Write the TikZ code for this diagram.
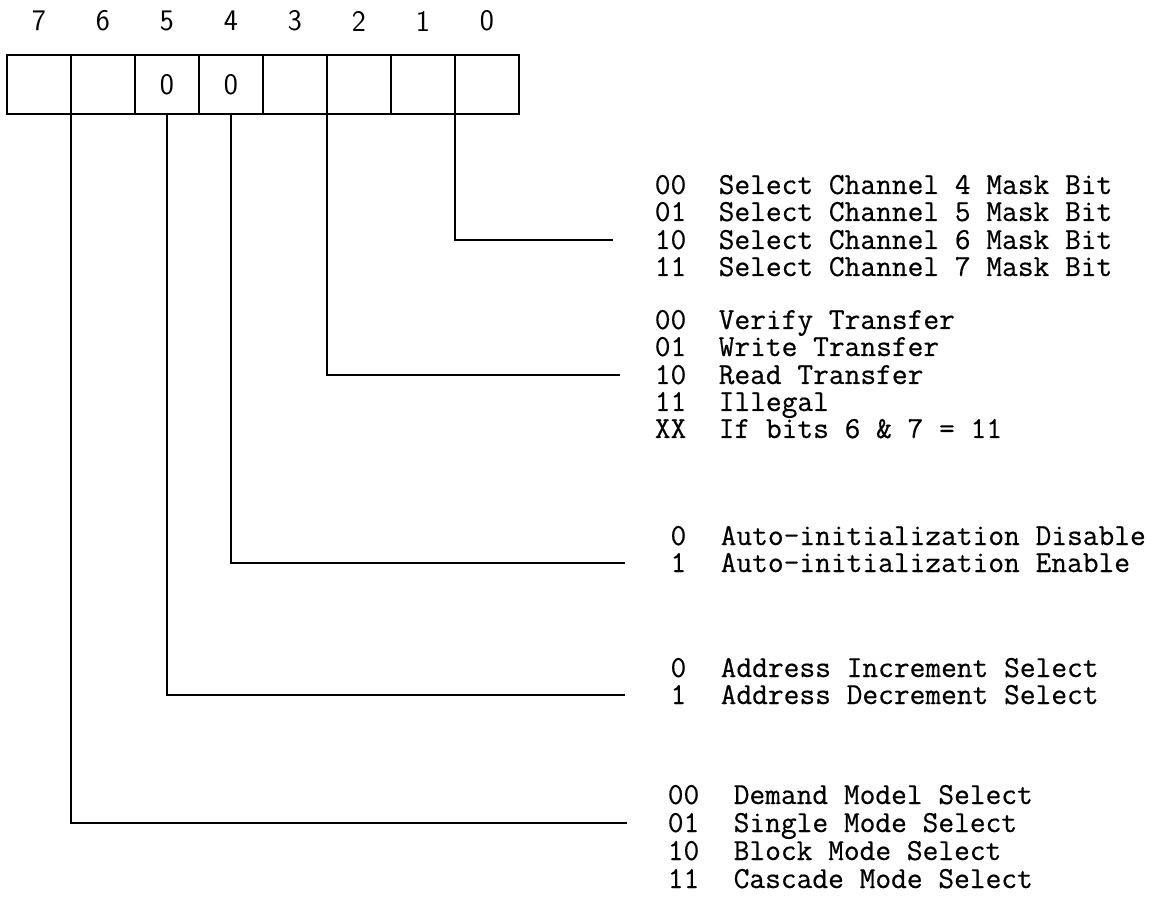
\documentclass[tikz,border=0pt]{standalone}
\usepackage{fontspec}
\setmonofont[FakeBold=0.5]{Latin Modern Mono}
\usepackage{tikz}

\begin{document}
\begin{tikzpicture}[x=0.02cm, y=-0.02cm, line width=0.8pt,
    cell/.style={draw, outer sep=0pt, minimum width=1.28cm, minimum height=1.18cm,
      inner sep=0pt, font=\fontsize{17}{19}\selectfont\sffamily},
    bitnum/.style={font=\fontsize{17}{19}\selectfont\sffamily},
    code/.style={anchor=base east, inner sep=0pt, text height=10.5pt, text depth=2.5pt,
      font=\fontsize{17.4}{18}\selectfont\ttfamily},
    desc/.style={anchor=base west, inner sep=0pt, text height=10.5pt, text depth=2.5pt,
      font=\fontsize{17.4}{18}\selectfont\ttfamily}]
  \useasboundingbox (0,0) rectangle (1155,901);

  % Register cells, bit 7 on the left
  \foreach \b/\v in {7/,6/,5/0,4/0,3/,2/,1/,0/} {
    \node[cell] (b\b) at ({487-64*\b}, 84.5) {\v};
    \node[bitnum] (n\b) at ({487-64*\b}, 21) {\b};
  }

  % Bits 1-0: mask bit select
  \foreach \y/\c/\t [count=\i] in {194/00/Select Channel 4 Mask Bit,
      221/01/Select Channel 5 Mask Bit, 249/10/Select Channel 6 Mask Bit,
      276/11/Select Channel 7 Mask Bit} {
    \node[code] (sc\i) at (687, \y) {\c};
    \node[desc] (sd\i) at (718, \y) {\t};
  }
  \coordinate (selEnd) at (613, 240);
  \draw (b1.south east) |- (selEnd);

  % Bits 3-2: transfer type
  \foreach \y/\c/\t [count=\i] in {329/00/Verify Transfer, 356/01/Write Transfer,
      384/10/Read Transfer, 411/11/Illegal, 438/XX/If bits 6 \& 7 = 11} {
    \node[code] (tc\i) at (687, \y) {\c};
    \node[desc] (td\i) at (718, \y) {\t};
  }
  \coordinate (xferEnd) at (620, 375);
  \draw (b3.south east) |- (xferEnd);

  % Bit 4: auto-initialization
  \foreach \y/\c/\t [count=\i] in {545/0/Auto-initialization Disable,
      572/1/Auto-initialization Enable} {
    \node[code] (ac\i) at (687, \y) {\c};
    \node[desc] (ad\i) at (720, \y) {\t};
  }
  \coordinate (autoEnd) at (625, 563);
  \draw (b4.south) |- (autoEnd);

  % Bit 5: address direction
  \foreach \y/\c/\t [count=\i] in {677/0/Address Increment Select,
      704/1/Address Decrement Select} {
    \node[code] (dc\i) at (687, \y) {\c};
    \node[desc] (dd\i) at (720, \y) {\t};
  }
  \coordinate (addrEnd) at (625, 695);
  \draw (b5.south) |- (addrEnd);

  % Bits 7-6: mode select
  \foreach \y/\c/\t [count=\i] in {804/00/Demand Model Select, 832/01/Single Mode Select,
      860/10/Block Mode Select, 888/11/Cascade Mode Select} {
    \node[code] (mc\i) at (700, \y) {\c};
    \node[desc] (md\i) at (733, \y) {\t};
  }
  \coordinate (modeEnd) at (627, 823);
  \draw (b7.south east) |- (modeEnd);
\end{tikzpicture}
\end{document}
